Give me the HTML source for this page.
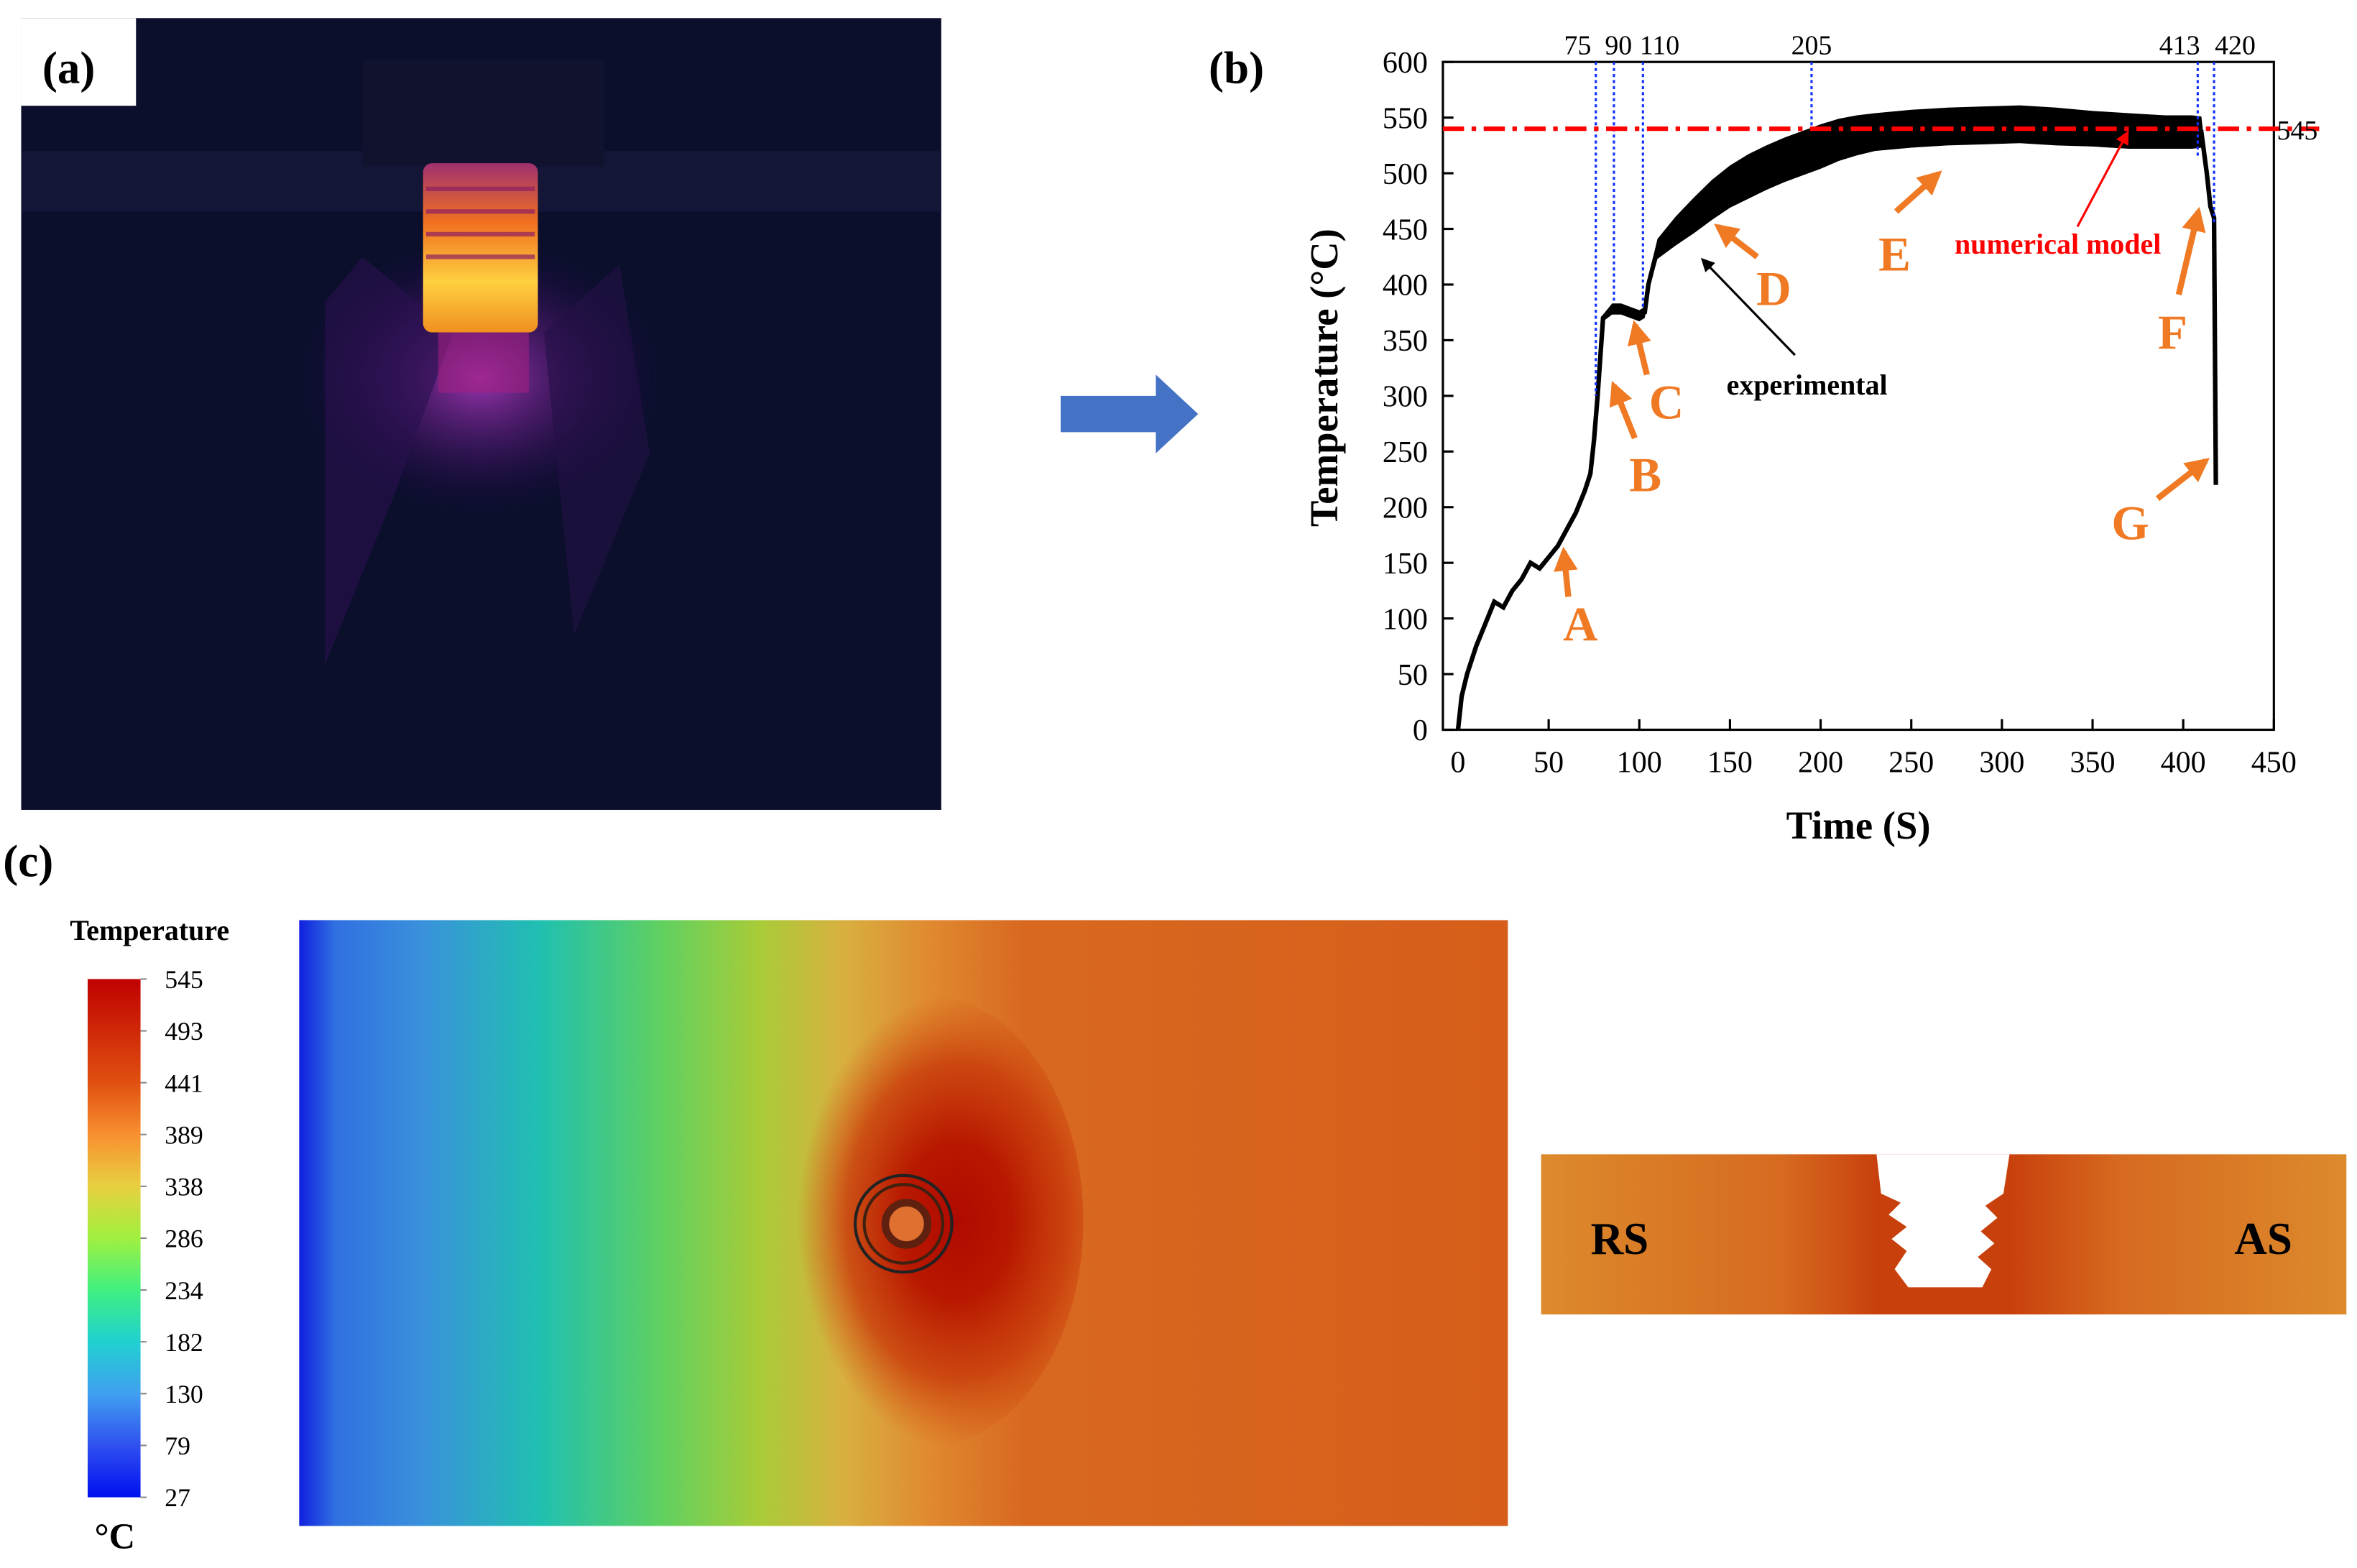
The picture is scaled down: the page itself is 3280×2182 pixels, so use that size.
<!DOCTYPE html>
<html><head><meta charset="utf-8"><style>html,body{margin:0;padding:0;background:#fff}svg{display:block}text{font-family:"Liberation Serif",serif}</style></head>
<body>
<svg id="fig" width="3280" height="2182" viewBox="0 0 1560 1037.8" xmlns="http://www.w3.org/2000/svg">
<defs>
<radialGradient id="glow" cx="0.5" cy="0.5" r="0.5"><stop offset="0" stop-color="#c040d0" stop-opacity="0.8"/><stop offset="1" stop-color="#300060" stop-opacity="0"/></radialGradient>
<linearGradient id="hot" x1="0" y1="0" x2="0" y2="1"><stop offset="0" stop-color="#a03070"/><stop offset="0.35" stop-color="#f07020"/><stop offset="0.7" stop-color="#ffd040"/><stop offset="1" stop-color="#f09020"/></linearGradient>
<linearGradient id="field" x1="0" y1="0" x2="1" y2="0"><stop offset="0" stop-color="#1020e0"/><stop offset="0.03" stop-color="#3070e0"/><stop offset="0.1" stop-color="#3a90dc"/><stop offset="0.2" stop-color="#20c0b0"/><stop offset="0.3" stop-color="#60d060"/><stop offset="0.38" stop-color="#a8cc38"/><stop offset="0.45" stop-color="#d8b040"/><stop offset="0.52" stop-color="#e08a30"/><stop offset="0.6" stop-color="#d86820"/><stop offset="1" stop-color="#d65e1a"/></linearGradient>
<radialGradient id="hotspot" cx="0.6" cy="0.5" r="0.5"><stop offset="0" stop-color="#b00a00"/><stop offset="0.35" stop-color="#b81800"/><stop offset="0.7" stop-color="#c83a0a" stop-opacity="0.8"/><stop offset="1" stop-color="#d05010" stop-opacity="0"/></radialGradient>
<linearGradient id="cbar" x1="0" y1="0" x2="0" y2="1"><stop offset="0" stop-color="#c00000"/><stop offset="0.2" stop-color="#e05010"/><stop offset="0.3" stop-color="#f89030"/><stop offset="0.4" stop-color="#e8d040"/><stop offset="0.5" stop-color="#a0f040"/><stop offset="0.6" stop-color="#40f080"/><stop offset="0.7" stop-color="#20d0d0"/><stop offset="0.8" stop-color="#40a0f0"/><stop offset="0.9" stop-color="#3050f0"/><stop offset="1" stop-color="#0010f0"/></linearGradient>
<linearGradient id="xsec" x1="0" y1="0" x2="1" y2="0"><stop offset="0" stop-color="#dc8a2c"/><stop offset="0.3" stop-color="#d66a20"/><stop offset="0.42" stop-color="#c8400c"/><stop offset="0.58" stop-color="#c8400c"/><stop offset="0.72" stop-color="#d66a20"/><stop offset="1" stop-color="#dc8a2c"/></linearGradient>
<marker id="ao" viewBox="0 0 10 10" refX="8" refY="5" markerWidth="4" markerHeight="4" orient="auto"><path d="M0,0L10,5L0,10z" fill="#f07a24"/></marker>
<marker id="ak" viewBox="0 0 10 10" refX="8" refY="5" markerWidth="6" markerHeight="6" orient="auto"><path d="M0,0L10,5L0,10z" fill="#000"/></marker>
<marker id="ar" viewBox="0 0 10 10" refX="8" refY="5" markerWidth="6" markerHeight="6" orient="auto"><path d="M0,0L10,5L0,10z" fill="#f00"/></marker>
</defs>

<g>
<rect x="14" y="12" width="609" height="524" fill="#0b0f2c"/>
<rect x="14" y="100" width="609" height="40" fill="#141638"/>
<rect x="240" y="40" width="160" height="70" fill="#10122e"/>
<ellipse cx="318" cy="250" rx="120" ry="90" fill="url(#glow)"/>
<path d="M215,200 L240,170 L300,220 L260,330 L215,440 Z" fill="#2a1050" opacity="0.6"/>
<path d="M360,220 L410,175 L430,300 L380,420 Z" fill="#241048" opacity="0.6"/>
<rect x="280" y="108" width="76" height="112" rx="6" fill="url(#hot)"/>
<g stroke="#902060" stroke-width="3" opacity="0.7"><line x1="282" y1="125" x2="354" y2="125"/><line x1="282" y1="140" x2="354" y2="140"/><line x1="282" y1="155" x2="354" y2="155"/><line x1="282" y1="170" x2="354" y2="170"/></g>
<rect x="290" y="220" width="60" height="40" fill="#a02080" opacity="0.6"/>
<rect x="14" y="12" width="76" height="58" fill="#fff"/>
</g>
<text x="28" y="55" font-size="30" font-weight="bold">(a)</text>
<polygon points="702,262 765,262 765,248 793,274 765,300 765,286 702,286" fill="#4472c4"/>

<text x="800" y="55" font-size="30" font-weight="bold">(b)</text>
<g id="chart"></g>

<text x="2" y="580" font-size="30" font-weight="bold">(c)</text>
<text x="99" y="622" font-size="19" font-weight="bold" text-anchor="middle">Temperature</text>
<rect x="58" y="648" width="35" height="343" fill="url(#cbar)"/>
<g id="cbl"></g>
<text x="76" y="1025" font-size="24" font-weight="bold" text-anchor="middle">°C</text>

<g>
<rect x="198" y="609" width="800" height="401" fill="url(#field)"/>
<ellipse cx="612" cy="808" rx="105" ry="150" fill="url(#hotspot)"/>
<ellipse cx="598" cy="810" rx="32" ry="32" fill="none" stroke="#222" stroke-width="2"/>
<ellipse cx="598" cy="810" rx="26" ry="26" fill="none" stroke="#402010" stroke-width="2"/>
<ellipse cx="600" cy="810" rx="14" ry="14" fill="#e07030" stroke="#602010" stroke-width="5"/>
</g>

<g>
<rect x="1020" y="764" width="533" height="106" fill="url(#xsec)"/>
<polygon points="1242,764 1330,764 1326,790 1314,798 1322,806 1311,815 1320,823 1309,832 1318,840 1312,852 1263,852 1254,840 1262,828 1252,820 1262,812 1250,804 1258,796 1245,790" fill="#fff"/>
<text x="1072" y="830" font-size="30" font-weight="bold" text-anchor="middle">RS</text>
<text x="1498" y="830" font-size="30" font-weight="bold" text-anchor="middle">AS</text>
</g>
</svg>
<script>
const timeS=[0,2,5,10,15,20,25,30,35,40,45,50,55,60,65,70,73,75,77,80,85,90,95,100,103,105,110,120,130,140,150,160,170,180,190,200,210,220,230,250,270,290,310,330,350,370,390,405,410,413,415,417,418];
const tempC=[0,30,50,75,95,115,110,125,135,150,145,155,165,180,195,215,230,260,300,370,378,378,375,372,375,400,432,448,462,476,488,497,505,512,518,524,530,534,537,540,542,543,544,542,540,538,537,537,537,500,470,460,220];
const bandHalf=[0,0,0,0,0,0,0,0,0,0,0,0,0,0,0,0,0,0,0,3,5,5,5,5,5,6,9,13,16,18,19,20,20,20,20,20,19,18,17,17,17,17,17,17,16,16,15,15,14,8,4,2,0];
const xTicks=[0,50,100,150,200,250,300,350,400,450];
const yTicks=[0,50,100,150,200,250,300,350,400,450,500,550,600];
const markerLabels=["75","90","110","205","413","420"];
const markerTimes=[76,86,102,195,408,417];
const markerEnds=[300,385,380,540,515,455];
const labelDx=[-12,3,11,0,-12,14];
const modelTemp=545;
const modelLineTemp=540;
const cbLabels=["545","493","441","389","338","286","234","182","130","79","27"];
const NS="http://www.w3.org/2000/svg";
const X0=955,X1=1505,Y0=483,Y1=41;
const sx=v=>965+v*1.2;
const sy=v=>483-v*(442/600);
const g=document.getElementById('chart');
function mk(tag,at,parent){const e=document.createElementNS(NS,tag);for(const k in at)e.setAttribute(k,at[k]);(parent||g).appendChild(e);return e;}
let up=[],dn=[];
for(let i=0;i<timeS.length;i++){up.push(sx(timeS[i])+','+sy(tempC[i]+bandHalf[i]));dn.unshift(sx(timeS[i])+','+sy(tempC[i]-bandHalf[i]));}
const band=mk('polygon',{points:up.concat(dn).join(' '),fill:'#000'});


const line=mk('polyline',{points:timeS.map((t,i)=>sx(t)+','+sy(tempC[i])).join(' '),fill:'none',stroke:'#000','stroke-width':3});


const fr=mk('rect',{x:X0,y:Y1,width:X1-X0,height:Y0-Y1,fill:'none',stroke:'#000','stroke-width':1.5});


xTicks.forEach(v=>{mk('line',{x1:sx(v),x2:sx(v),y1:Y0,y2:Y0-7,stroke:'#000','stroke-width':1.5});
const t=mk('text',{x:sx(v),y:Y0+28,'font-size':20,'text-anchor':'middle'});t.textContent=v;

});
yTicks.forEach(v=>{mk('line',{x1:X0,x2:X0+7,y1:sy(v),y2:sy(v),stroke:'#000','stroke-width':1.5});
const t=mk('text',{x:X0-10,y:sy(v)+7,'font-size':20,'text-anchor':'end'});t.textContent=v;

});
markerTimes.forEach((m,i)=>{const l=mk('line',{x1:sx(m),x2:sx(m),y1:Y1,y2:sy(markerEnds[i]),stroke:'#1030ff','stroke-width':1.5,'stroke-dasharray':'2,2'});


const t=mk('text',{x:sx(m)+labelDx[i],y:Y1-5,'font-size':18,'text-anchor':'middle'});t.textContent=markerLabels[i];

});
const rl=mk('line',{x1:X0,x2:X1+30,y1:sy(modelLineTemp),y2:sy(modelLineTemp),stroke:'#f00','stroke-width':3,'stroke-dasharray':'14,5,3,5'});


const rt=mk('text',{x:X1+2,y:sy(modelLineTemp)+7,'font-size':18});rt.textContent=modelTemp;


const xt=mk('text',{x:1230,y:555,'font-size':26,'font-weight':'bold','text-anchor':'middle'});xt.textContent='Time (S)';


const yt=mk('text',{x:0,y:0,'font-size':26,'font-weight':'bold','text-anchor':'middle',transform:'translate(885,250) rotate(-90)'});yt.textContent='Temperature (°C)';


const stages=[["A",1046,424,1038,395,1035,365],["B",1089,325,1082,290,1068,255],["C",1103,277,1090,248,1082,215],["D",1174,202,1163,170,1137,150],["E",1254,179,1255,140,1283,115],["F",1438,231,1442,195,1455,140],["G",1410,357,1428,330,1460,305]];
stages.forEach(s=>{const a=mk('line',{x1:s[3],y1:s[4],x2:s[5],y2:s[6],stroke:'#f07a24','stroke-width':4,'marker-end':'url(#ao)'});


const t=mk('text',{x:s[1],y:s[2],'font-size':32,'font-weight':'bold',fill:'#f07a24','text-anchor':'middle'});t.textContent=s[0];

});
const ka=mk('line',{x1:1188,y1:235,x2:1127,y2:172,stroke:'#000','stroke-width':1.5,'marker-end':'url(#ak)'});


const kt=mk('text',{x:1196,y:261,'font-size':19,'font-weight':'bold','text-anchor':'middle'});kt.textContent='experimental';


const ra=mk('line',{x1:1375,y1:150,x2:1408,y2:88,stroke:'#f00','stroke-width':1.5,'marker-end':'url(#ar)'});


const nt=mk('text',{x:1362,y:168,'font-size':19,'font-weight':'bold',fill:'#f00','text-anchor':'middle'});nt.textContent='numerical model';


const cb=document.getElementById('cbl');
cbLabels.forEach((v,i)=>{const y=648+i*34.3;
mk('line',{x1:93,x2:97,y1:y,y2:y,stroke:'#888'},cb);
const t=mk('text',{x:109,y:y+6,'font-size':17,'font-family':'Liberation Sans'},cb);t.textContent=v;

});
</script>
</body></html>
